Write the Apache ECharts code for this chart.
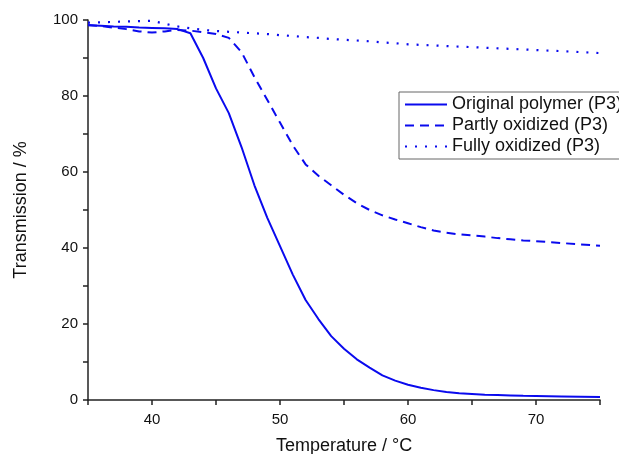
<!DOCTYPE html>
<html>
<head>
<meta charset="utf-8">
<script src="https://cdn.jsdelivr.net/npm/echarts@6/dist/echarts.min.js"></script>
<style>
html,body{margin:0;padding:0;background:#fff;}
#chart{width:619px;height:454px;}
</style>
</head>
<body>
<div id="chart"></div>
<script>
const seriesNames = ['Original polymer (P3)', 'Partly oxidized (P3)', 'Fully oxidized (P3)'];

const originalTemp = [35,36,37,38,39,40,41,42,43,44,45,46,47,48,49,50,51,52,53,54,55,56,57,58,59,60,61,62,63,64,65,66,67,68,69,70,72,75];
const originalValues = [98.6,98.5,98.3,98.2,98.0,97.9,97.8,97.6,96.5,90.0,82.0,75.5,66.5,56.5,48.0,40.5,33.0,26.3,21.3,16.8,13.5,10.7,8.5,6.5,5.1,4.0,3.2,2.6,2.1,1.8,1.6,1.4,1.3,1.2,1.1,1.05,0.95,0.8];

const partlyTemp = [35,36,37,38,39,40,41,42,43,44,45,46,47,48,49,50,51,52,53,54,55,56,57,58,59,60,61,62,63,64,65,66,67,68,69,70,72,75];
const partlyValues = [98.7,98.4,98.0,97.6,97.0,96.7,97.0,97.4,97.2,96.8,96.3,95.3,91.5,85.0,79.0,73.0,67.0,62.0,59.0,56.5,54.0,51.8,50.0,48.6,47.5,46.5,45.5,44.6,44.0,43.6,43.3,43.0,42.6,42.3,42.0,41.8,41.3,40.6];

const fullyTemp = [35,36,37,38,39,40,41,42,43,44,45,46,47,48,49,50,51,52,53,54,55,56,57,58,59,60,62,64,66,68,70,72,75];
const fullyValues = [99.3,99.4,99.5,99.6,99.7,99.8,99.0,98.3,97.8,97.4,97.1,96.9,96.7,96.5,96.3,96.0,95.8,95.5,95.3,95.0,94.8,94.6,94.4,94.1,93.9,93.6,93.3,93.0,92.7,92.4,92.1,91.8,91.3];

const xTickLabels = [40, 50, 60, 70];
const yTickLabels = [0, 20, 40, 60, 80, 100];

const zip = (xs, ys) => xs.map((x, i) => [x, ys[i]]);
const blue = '#0a0aee';
const font = 'Liberation Sans, Arial, sans-serif';

const chart = echarts.init(document.getElementById('chart'), null, {renderer: 'canvas'});
chart.setOption({
  animation: false,
  backgroundColor: '#ffffff',
  grid: {left: 88, right: 19, top: 20, bottom: 54, containLabel: false, outerBoundsMode: 'none'},
  legend: {
    orient: 'vertical',
    left: 399,
    top: 92,
    padding: [2, 14, 2, 5],
    itemGap: 0,
    itemWidth: 42,
    itemHeight: 14,
    borderColor: '#666',
    borderWidth: 1,
    backgroundColor: '#fff',
    itemStyle: {opacity: 0},
    textStyle: {fontFamily: font, fontSize: 18, color: '#111', lineHeight: 21},
    data: seriesNames
  },
  xAxis: {
    type: 'value',
    min: 35, max: 75, interval: 5,
    name: 'Temperature / °C',
    nameLocation: 'middle',
    nameGap: 37,
    nameTextStyle: {fontFamily: font, fontSize: 18, color: '#111'},
    axisLine: {show: true, onZero: false, lineStyle: {color: '#222', width: 1.5}},
    axisTick: {show: true, inside: false, length: 5, lineStyle: {color: '#222', width: 1.5}},
    axisLabel: {
      fontFamily: font, fontSize: 15, color: '#111', margin: 12,
      formatter: v => xTickLabels.includes(v) ? String(v) : ''
    },
    splitLine: {show: false}
  },
  yAxis: {
    type: 'value',
    min: 0, max: 100, interval: 10,
    name: 'Transmission / %',
    nameLocation: 'middle',
    nameGap: 58,
    nameTextStyle: {fontFamily: font, fontSize: 18, color: '#111'},
    axisLine: {show: true, onZero: false, lineStyle: {color: '#222', width: 1.5}},
    axisTick: {show: true, inside: false, length: 5, lineStyle: {color: '#222', width: 1.5}},
    axisLabel: {
      fontFamily: font, fontSize: 15, color: '#111', margin: 10,
      formatter: v => yTickLabels.includes(v) ? String(v) : ''
    },
    splitLine: {show: false}
  },
  series: [
    {
      name: seriesNames[0], type: 'line', symbol: 'none', smooth: false,
      data: zip(originalTemp, originalValues),
      lineStyle: {color: blue, width: 2, type: 'solid'},
      itemStyle: {color: blue}
    },
    {
      name: seriesNames[1], type: 'line', symbol: 'none', smooth: false,
      data: zip(partlyTemp, partlyValues),
      lineStyle: {color: blue, width: 2, type: [9, 6]},
      itemStyle: {color: blue}
    },
    {
      name: seriesNames[2], type: 'line', symbol: 'none', smooth: false,
      data: zip(fullyTemp, fullyValues),
      lineStyle: {color: blue, width: 2.2, type: [2, 8]},
      itemStyle: {color: blue}
    }
  ]
});
</script>
</body>
</html>
